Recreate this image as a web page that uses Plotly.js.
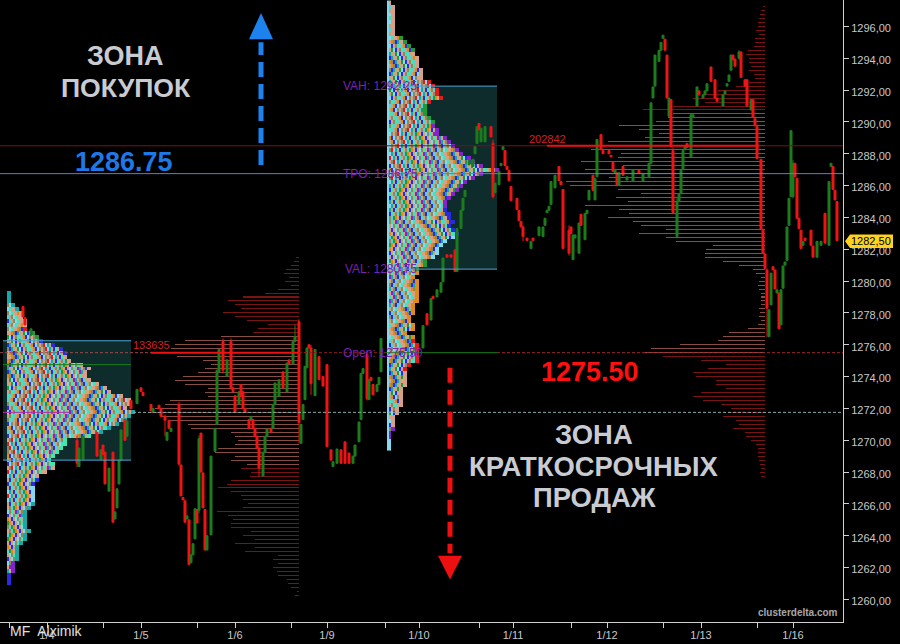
<!DOCTYPE html>
<html><head><meta charset="utf-8">
<script src="https://cdn.plot.ly/plotly-3.0.1.min.js"></script>
<style>html,body{margin:0;padding:0;background:#000}#c{width:900px;height:644px}</style>
</head><body><div id="c"></div>
<script>
// ---- 30-minute candles (bar index, open, close) ----
const bars = [12,13,16,39,40,42,49,51,52,53,
55,57,58,59,60,61,63,64,66,69,
71,72,76,77,80,81,83,84,85,86,
90,91,92,93,94,95,96,97,98,99,
100,101,102,103,104,106,108,109,110,112,
114,116,117,118,120,121,122,123,125,126,
127,128,129,130,132,133,134,136,137,138,
140,142,144,145,147,148,150,151,152,153,
154,155,156,158,160,162,164,166,167,169,
171,173,175,177,178,180,181,182,184,185,
186,187,189,190,191,212,214,216,217,219,
221,222,224,226,228,229,231,232,233,235,
237,238,239,240,241,243,246,247,248,250,
251,252,253,254,255,256,259,260,261,262,
264,266,267,270,272,273,274,275,276,278,
280,281,282,285,286,287,288,290,291,293,
294,295,297,298,299,301,302,305,306,307,
308,309,310,312,314,317,320,322,325,326,
327,328,330,331,332,333,334,335,336,337,
339,340,341,342,343,344,346,347,349,350,
352,353,354,356,358,359,362,363,364,365,
366,367,368,370,371,373,374,376,377,378,
379,381,382,383,384,385,386,387,388,389,
390,391,392,393,394,395,396,397,398,399,
400,401,402,403,406,407,409,411,413,415,
416,417,418,419];
const opens = [1278.4,1277.7,1276.6,1270,1268.35,1268.8,1270.5,1268.8,1269.7,1269.25,
1266.8,1269.25,1265.05,1265.75,1267.25,1268.75,1271.3,1270.25,1272.5,1272.3,
1273.3,1273,1272.25,1271.8,1272.2,1272,1271.5,1270,1271.25,1270.55,
1272.25,1268.45,1266.4,1266.2,1265.05,1265,1262.3,1262.8,1263.8,1265.65,
1265.6,1270.45,1267.95,1265.65,1263.1,1264.05,1269.3,1271,1274.3,1276.2,
1274,1276.2,1273.3,1272.8,1272.25,1273.5,1273.05,1272,1271.3,1271.3,
1271.3,1270.75,1270.25,1269.5,1267.75,1269.25,1270.25,1270.75,1270.75,1272.25,
1272.75,1274.3,1273.05,1275.05,1274.8,1276.2,1277.45,1269.8,1271.3,1272.55,
1274.55,1276,1275.8,1272.8,1275.25,1274,1274.75,1269.4,1268.35,1268.55,
1269.4,1269.9,1269.2,1268.55,1269,1269.9,1271.3,1274.2,1275.4,1272.55,
1273.95,1273.5,1273.05,1273.5,1274.3,1275.8,1277.95,1277.55,1279.05,1279,
1279.3,1279.95,1281.65,1281.65,1281.95,1280.6,1283.3,1284.45,1285.3,1287.3,
1287.2,1288,1288.65,1289.9,1288.75,1288.75,1289.7,1288.65,1285.55,1286.05,
1287.25,1288.25,1288.2,1287.2,1286.95,1285.95,1285.2,1284.45,1283.75,1283.4,
1282.7,1282.05,1282.7,1282.85,1282.8,1283.5,1284.3,1284.45,1284.8,1285.85,
1287.2,1286.25,1285.75,1283.2,1283.4,1281.35,1282.7,1281.75,1284.2,1282.6,
1284.25,1285.1,1286.65,1285.1,1286.55,1289.2,1288.2,1288.2,1287.9,1287.45,
1286.8,1286.8,1286,1287.2,1286.35,1286.3,1286.95,1286.3,1286.55,1287.4,
1291.5,1292.25,1293.8,1294.5,1295.25,1295.2,1294.2,1290.35,1291.4,1288.2,
1282.8,1285,1285.5,1287,1288.25,1288.65,1287.8,1290.3,1291,1291.95,
1291.5,1291.7,1291.95,1293.45,1292.65,1291.5,1291,1291.75,1292.25,1292.55,
1293.25,1294.2,1293.95,1294,1294.4,1292.65,1292.65,1290.75,1291.4,1290.2,
1289.7,1287.65,1283.2,1281.7,1280.7,1276.5,1278.5,1280.9,1280.7,1279.25,
1279.25,1277.25,1279.55,1281,1281.3,1283.5,1285.3,1285.3,1287.4,1286.45,
1283.95,1283.2,1282.25,1282.7,1283.2,1282.2,1281.5,1282.25,1284.25,1282.25,
1287.2,1287.2,1285.7,1285];
const closes = [1277.75,1277.25,1277,1268.55,1269.5,1270.25,1269,1269.4,1269.1,1267.25,
1268.25,1264.85,1265.5,1266.95,1268.75,1270.65,1270,1271.2,1272,1273.2,
1273.05,1272.8,1271.85,1272,1272,1271.5,1271.25,1270.5,1270.75,1270.75,
1268.5,1266.5,1266.25,1264.85,1265.25,1262.2,1262.8,1263.5,1265.7,1264.8,
1270.1,1268,1265.75,1263.1,1264,1269,1270.75,1274.4,1275.7,1274.4,
1275.05,1273.3,1273.05,1271.8,1273.05,1272.75,1272,1271.75,1270.75,1271.5,
1270.75,1270.25,1269.5,1268.25,1269.25,1270.25,1270.7,1270.5,1272.25,1273.6,
1273.8,1273.3,1274.85,1274.8,1276.2,1276.5,1271.1,1271,1272.25,1274.65,
1275.8,1275.8,1273.55,1275.7,1273.8,1273.4,1269.6,1268.75,1268.65,1269.45,
1268.55,1268.55,1268.55,1269,1269.7,1271.15,1274.2,1274.5,1272.6,1273.8,
1273.75,1272.85,1273.5,1273.95,1276.4,1277.2,1277.25,1278.9,1278.9,1279.45,
1279.9,1281.45,1281.5,1281.5,1280.6,1283.3,1284.45,1285.2,1285.7,1287.6,
1287.65,1288.45,1289.7,1289.5,1289.6,1289.7,1289.05,1285.3,1286.15,1286.9,
1287.4,1288.45,1287.25,1287,1286.3,1285.05,1284.5,1283.8,1283.4,1282.8,
1282.55,1282.5,1282.55,1283.4,1283.4,1283.95,1284.45,1284.7,1286.25,1286.65,
1286.3,1286.05,1282.05,1281.75,1283,1282.9,1282.9,1283.65,1283.5,1284.25,
1284.45,1285.7,1285.7,1286.45,1288.9,1288.25,1288,1288,1287.8,1286.9,
1287,1286,1286.8,1286.65,1286.55,1287,1286.75,1286.75,1287.4,1291.2,
1292.2,1294.2,1294.5,1295,1295.45,1294.5,1291.5,1291.5,1288.45,1284.3,
1285,1285.5,1286.95,1288.2,1288.45,1288.4,1290.45,1290.45,1292.2,1291.7,
1291.7,1291.95,1292.4,1292.55,1291.5,1291.3,1291.7,1291.95,1292.4,1292.95,
1294.2,1293.9,1293.5,1294.4,1292.8,1292.25,1291,1291.4,1290.3,1289.75,
1287.7,1283.25,1281.75,1280.8,1278.3,1278.2,1280.5,1280.7,1279.5,1279.45,
1277,1279.45,1280.95,1281.2,1283.4,1285.2,1289.45,1287.4,1286.55,1283.95,
1283.3,1282.05,1282.5,1282.55,1282.25,1281.5,1282.5,1282.5,1282.4,1286.25,
1287.4,1285.75,1285.1,1282.55];
// wicks that stick out of the body
const wickBars  = [39,83,90,100,112,116,130,148,150,156,184,228,247,262,285,337,339,384,397,413,370];
const wickHighs = [1270.3,1271.6,1272.4,1270.3,1276.4,1276.4,1269.6,1277.25,1277.6,1276,1275.6,1282,1288.9,1283.5,1283.5,1288.4,1285.2,1280.8,1287.6,1284.3,1294.5];
const wickLows  = [1268.3,1270.25,1268.4,1265.4,1274.2,1273.2,1267.75,1276.2,1269.8,1272.85,1272.5,1280.6,1285.2,1282.5,1281.6,1284.2,1282.7,1276.5,1285.2,1282.3,1293.9];

// ---- volume profiles: length of each 0.25 price row, top row first ----
const volTopA = 1281.5;
const volRowsA = [1.5,2.5,4,6.5,7.5,5,7,4,10.5,17,28,35.5,32,29,38,32,26,15.5,20.5,23,39,57,62,64,74,61,48,44,47,50.5,58,62,57,45.5,47,45.5,64.5,67,72,74.5,69,65.5,55.5,54,34,32,30.5,32,40.5,42,32,34,26,29,24,24.5,34,36,40.5,34,29,28,25.5,28,41,35.5,33,34,34,24,28,22,32,22,27,10.5,13,10.5,13,11,10.5,6,5.5,4,1,2];
const volTopB = 1297.25;
const volRowsB = [1,2,2.5,3,3.5,3.5,4.5,3,5,5,5.5,8.5,9.5,8,8,7,8,5.5,5,8,14.5,23.5,31,36,30,46,61,46,48.5,54.5,73,63,53,60,78.5,108.5,87,72,73.5,92,71,90,82,78,99.5,97.5,73.5,62,74.5,68.5,90,73,68,78.5,66,62,49.5,63,49.5,44.5,26,29.5,30,30,21,13,6,4.5,2,3,3.5,3,2,2,2,2,3,2.5,3,2,3.5,8.5,18,21,23.5,42.5,57,60,51,32,19.5,28.5,36,34.5,24.5,24.5,19.5,32,36,31,22,17,18.5,21,14.5,13,16,10,9.5,7,4.5,3.5,3.5,3.5,3,2.5,2,2.5,2];

// ---- market profile: number of TPO blocks in each 0.25 price row, top row first ----
const tpoTopA = 1279.25;
const tpoRowsA = [1,1,1,2,3,4,4,5,5,5,7,8,9,12,14,15,15,16,19,21,20,20,21,23,25,26,29,31,31,30,32,31,30,28,26,24,21,15,15,14,13,12,11,12,12,10,8,8,7,7,7,7,7,7,6,5,5,5,5,5,6,5,5,4,3,3,3,3,2,2,2,1,1,1];
const tpoTopB = 1297.5;
const tpoRowsB = [1,2,2,2,2,2,2,2,2,4,5,6,7,7,8,8,8,9,9,9,11,12,13,13,14,11,10,10,10,11,12,12,13,13,15,16,17,18,19,21,22,24,28,24,22,20,19,18,17,16,15,15,15,16,16,17,16,17,18,17,15,14,13,13,12,10,10,8,8,7,8,8,8,8,8,8,7,7,7,6,6,7,7,5,7,7,8,8,8,8,8,6,5,5,5,5,5,4,4,4,4,4,3,3,2,2,2,2,1,1,1,1,1];
const tpoPalette = ['#14a8a8','#d9a088','#2a2adf','#e08a18','#8a8a62','#3ee8b0','#86d8f0','#1f9a3a','#e81818','#8424c8','#c2a878','#58d0d8'];
const tpoOrder = [1,4,2,11,10,4,6,5,1,1,3,4,2,0,10,1,7,6,2,1,4,5,11,10,3,2,6,4,1,4,8,6,0,10,2,5,1,4,11,7,3,1,2,10,6,4,5,1,9,0];
const tpoWave = [0,2,3,5,6,5,3,2,3,5,8,9,7,5,4,2,1,3,4,6,5,3,1,0,2,5,7,8,6,4,3,5,6,4,2,1,4,7,9,8,6,3,2,4];
// colour of the outer block of each row: [first row, last row, palette index]
const tpoEdgeA = [[0,5,0],[5,9,1],[9,10,8],[10,12,7],[12,16,2],[16,30,1],[30,36,0],[36,44,5],[44,47,1],[47,49,2],[49,53,6],[53,68,0],[68,71,9],[71,74,2]];
const tpoEdgeB = [[0,9,1],[9,13,7],[13,20,1],[20,26,8],[26,31,7],[31,52,9],[52,59,2],[59,65,6],[65,68,7],[68,85,3],[85,93,8],[93,107,1],[107,110,9],[110,113,6]];

// ---- levels ----
const level1 = 1288.5, level2 = 1286.75, level3 = 1275.5, level4 = 1271.75;
const vahA = 1276.25, valA = 1268.75, midA = 1274.75;
const vahB = 1292.25, valB = 1280.75;
const lastPrice = 1282.5;

// ---- axis ticks ----
const yTicks = [1260,1262,1264,1266,1268,1270,1272,1274,1276,1278,1280,1282,1284,1286,1288,1290,1292,1294,1296];
const xTickBars = [5,24,52,71,99,118,146,164,193,210,240,257,286,304,332,351,379,397];
const xTickText = ['','1/4','','1/5','','1/6','','1/9','','1/10','','1/11','','1/12','','1/13','','1/16'];

const RED='#ee1515', GREEN='#1c7d1c', VOL_DARK='rgba(122,20,20,0.99)', VOL_TAN='rgba(138,78,70,0.99)', EDGE='#4aa6d6';

const highs = opens.map((o,i)=>Math.max(o,closes[i]));
const lows  = opens.map((o,i)=>Math.min(o,closes[i]));
wickBars.forEach((b,j)=>{const i=bars.indexOf(b); if(i>=0){highs[i]=Math.max(highs[i],wickHighs[j]); lows[i]=Math.min(lows[i],wickLows[j]);}});

function volTrace(top,rows,base,vaHi,vaLo){
  const y=rows.map((_,i)=>top-0.25*i);
  return {type:'bar',orientation:'h',y:y,x:rows.map(v=>-v),base:rows.map(()=>base),width:rows.map(()=>0.0635),
    marker:{color:y.map(p=>(p<=vaHi&&p>=vaLo)?VOL_TAN:VOL_DARK),line:{width:0}},hoverinfo:'skip',showlegend:false};
}
function tpoTrace(top,rows,x0,edges,firstCol){
  const n=2*Math.max(...rows);
  const z=rows.map((blocks,r)=>{
    const w=2*blocks, a=[];
    const e=edges.find(s=>r>=s[0]&&r<s[1]);
    for(let c=0;c<n;c++){
      if(c>=w){a.push(null);continue;}
      let v=tpoOrder[(c+tpoWave[r%tpoWave.length]+Math.floor(r/11)*7)%tpoOrder.length];
      if(c>=w-2&&e) v=e[2];
      if(c===0&&firstCol!==null) v=firstCol;
      a.push(v+0.5);
    }
    return a;});
  const m=tpoPalette.length;
  const cs=[];tpoPalette.forEach((col,i)=>{cs.push([i/m,col]);cs.push([(i+1)/m,col]);});
  return {type:'heatmap',z:z,x0:x0,dx:1,y:rows.map((_,i)=>top-0.25*i),zmin:0,zmax:m,colorscale:cs,showscale:false,hoverinfo:'skip',zsmooth:false};
}
const traces=[
  tpoTrace(tpoTopA,tpoRowsA,4.5,tpoEdgeA,null),
  tpoTrace(tpoTopB,tpoRowsB,194.5,tpoEdgeB,6),
  volTrace(volTopA,volRowsA,150,1276.5,1268.5),
  volTrace(volTopB,volRowsB,383,1290.5,1275.5),
  {type:'candlestick',x:bars,open:opens,high:highs,low:lows,close:closes,whiskerwidth:0,
   increasing:{line:{color:GREEN,width:1},fillcolor:GREEN},
   decreasing:{line:{color:RED,width:1},fillcolor:RED},hoverinfo:'skip',showlegend:false}
];
function hl(x0,x1,y,color,width,dash){return {type:'line',xref:'x',yref:'y',x0:x0,x1:x1,y0:y,y1:y,line:{color:color,width:width||1,dash:dash||'solid'}};}
const shapes=[
  {type:'rect',layer:'below',xref:'x',yref:'y',x0:2,x1:66,y0:valA,y1:vahA,fillcolor:'#0e2c2c',line:{width:0}},
  {type:'rect',layer:'below',xref:'x',yref:'y',x0:194,x1:249,y0:valB,y1:vahB,fillcolor:'#0e2c2c',line:{width:0}},
  hl(2,66,vahA,EDGE),hl(2,66,valA,EDGE),hl(2,66,midA,GREEN),
  hl(194,249,vahB,EDGE),hl(194,249,valB,EDGE),
  hl(0.5,274,level1,'#7a1212'),hl(274,380,level1,'#f01010',2),hl(380,422,level1,'#7a1212'),
  hl(0.5,422,level2,'#4f82d8'),
  hl(0.5,76,level3,'#a04848',1,'3px,2px'),hl(76,150,level3,'#f01010',2),hl(150,193,level3,'#8a2020',1,'3px,2px'),
  hl(193,249,level3,GREEN),hl(249,422,level3,'#a02828',1,'3px,2px'),
  hl(2,35,level4,'#b030b0'),hl(67,422,level4,'#86a8a8',1,'3px,2px'),
  // dashed arrows
  {type:'line',xref:'x',yref:'y',x0:131,x1:131,y0:1287.3,y1:1295,line:{color:'#1e82ee',width:5,dash:'15px,7px'}},
  {type:'path',xref:'x',yref:'y',path:'M 125 1295.2 L 137 1295.2 L 131 1296.85 Z',fillcolor:'#1e82ee',line:{width:0}},
  {type:'line',xref:'x',yref:'y',x0:225.5,x1:225.5,y0:1274.55,y1:1262.9,line:{color:'#ee1010',width:5,dash:'15px,7px'}},
  {type:'path',xref:'x',yref:'y',path:'M 219.5 1262.75 L 231.5 1262.75 L 225.5 1261.25 Z',fillcolor:'#ee1010',line:{width:0}},
  // last price tag
  {type:'path',xref:'paper',yref:'y',path:`M 1.0024 ${lastPrice} L 1.0083 ${lastPrice+0.42} L 1.0593 ${lastPrice+0.42} L 1.0593 ${lastPrice-0.42} L 1.0083 ${lastPrice-0.42} Z`,fillcolor:'#ffd21e',line:{width:0}}
];
const BIG='Arial, "Liberation Sans", sans-serif';
function txt(x,y,text,size,color,bold,anchor){return {xref:'x',yref:'y',x:x,y:y,text:bold?'<b>'+text+'</b>':text,showarrow:false,xanchor:anchor||'center',yanchor:'middle',font:{family:BIG,size:size,color:color}};}
const GREY='#c8ccd2', PURPLE='#7a22b4';
const annotations=[
  txt(63,1294.15,'ЗОНА',27,GREY,true),
  txt(63.5,1292.1,'ПОКУПОК',26.6,GREY,true),
  txt(62.5,1287.5,'1286.75',27,'#1e78e8',true),
  txt(295.5,1274.3,'1275.50',27,'#ff1010',true),
  txt(297.5,1270.35,'ЗОНА',27.4,GREY,true),
  txt(297.5,1268.35,'КРАТКОСРОЧНЫХ',27.4,GREY,true),
  txt(297.5,1266.4,'ПРОДАЖ',27.4,GREY,true),
  txt(264,1288.9,'202842',11,'#d02020',false,'left'),
  txt(66,1276.0,'133635',11,'#d02020',false,'left'),
  txt(171,1292.25,'VAH: 1292,25',12,PURPLE,false,'left'),
  txt(171,1286.75,'TPO: 1286,75',12,PURPLE,false,'left'),
  txt(172,1280.75,'VAL: 1280,75',12,PURPLE,false,'left'),
  txt(171,1275.5,'Open: 1275,50',12,PURPLE,false,'left'),
  {xref:'paper',yref:'y',x:1.0335,y:lastPrice,text:'1282,50',showarrow:false,xanchor:'center',yanchor:'middle',font:{family:BIG,size:11,color:'#000'}},
  {xref:'paper',yref:'paper',x:0.0095,y:-0.014,text:'MF  Alximik',showarrow:false,xanchor:'left',yanchor:'middle',font:{family:BIG,size:14,color:'#e0e0e0'}},
  {xref:'paper',yref:'paper',x:0.9965,y:0.0035,text:'<b>clusterdelta.com</b>',showarrow:false,xanchor:'right',yanchor:'bottom',font:{family:BIG,size:10,color:'#a8a8a8'}}
];
const layout={
  width:900,height:644,margin:{l:0,r:57,t:0,b:22,pad:0},paper_bgcolor:'#000',plot_bgcolor:'#000',
  showlegend:false,hovermode:false,boxgap:0,boxgroupgap:0,bargap:0,barmode:'overlay',separators:', ',
  xaxis:{type:'linear',range:[0.5,422],rangeslider:{visible:false},showgrid:false,zeroline:false,
    tickmode:'array',tickvals:xTickBars,ticktext:xTickText,ticks:'outside',ticklen:5,tickcolor:'#d0d0d0',tickwidth:1,ticklabelstandoff:-2,
    showline:true,linecolor:'#d0d0d0',linewidth:1,tickfont:{family:BIG,size:11,color:'#c8c8c8'}},
  yaxis:{side:'right',range:[1258.58,1297.66],showgrid:false,zeroline:false,tickmode:'array',tickvals:yTicks,ticklabelshift:2,
    ticktext:yTicks.map(v=>v.toFixed(2).replace('.',',')),ticks:'outside',ticklen:5,tickcolor:'#d0d0d0',tickwidth:1,
    showline:true,linecolor:'#d0d0d0',linewidth:1,tickfont:{family:BIG,size:11,color:'#c8c8c8'}},
  shapes:shapes,annotations:annotations
};
Plotly.newPlot('c',traces,layout,{displayModeBar:false,staticPlot:true});
</script></body></html>
